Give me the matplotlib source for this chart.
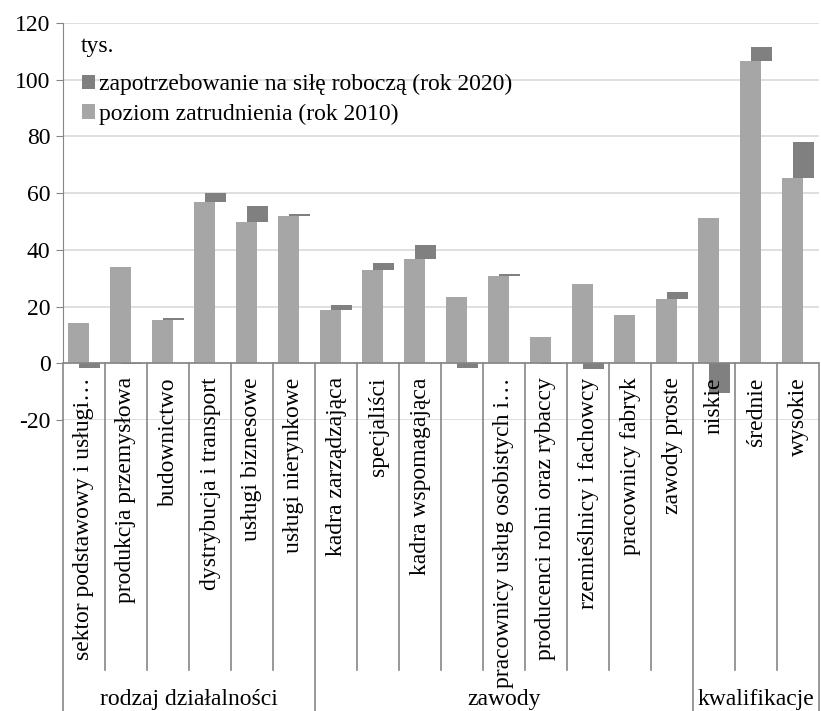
# zatrudnienie 2010 vs zapotrzebowanie 2020 - wykres slupkowy
import matplotlib
matplotlib.use("Agg")
import matplotlib.pyplot as plt
from matplotlib.lines import Line2D

plt.rcParams['font.family'] = ['Liberation Serif', 'DejaVu Serif']
plt.rcParams['axes.unicode_minus'] = False

# dane (tys.)
categories = ["sektor podstawowy i usługi…", "produkcja przemysłowa", "budownictwo",
              "dystrybucja i transport", "usługi biznesowe", "usługi nierynkowe",
              "kadra zarządzająca", "specjaliści", "kadra wspomagająca", "",
              "pracownicy usług osobistych i…", "producenci rolni oraz rybaccy",
              "rzemieślnicy i fachowcy", "pracownicy fabryk", "zawody proste",
              "niskie", "średnie", "wysokie"]
level_2010 = [14.2, 33.8, 15.4, 56.8, 49.9, 52.0,
              18.9, 32.8, 36.8, 23.4, 30.7, 9.1, 28.0, 17.2, 22.7,
              51.1, 106.6, 65.2]
change_2020 = [-1.5, -0.3, 0.4, 3.1, 5.4, 0.8,
               1.8, 2.5, 4.8, -1.6, 0.9, -0.3, -1.9, 0.0, 2.6,
               -10.5, 4.9, 12.8]
groups = ["rodzaj działalności", "zawody", "kwalifikacje"]
group_sizes = [6, 9, 3]

light = "#a6a6a6"
dark = "#808080"
axis_col = "#868686"
fs = 17

fig = plt.figure(figsize=(8.21, 7.11), dpi=100)
W, H = 821, 711
ax = fig.add_axes([63 / W, (H - 420) / H, (819 - 63) / W, (420 - 23) / H])

n = len(categories)
xs = list(range(n))
# dark bar: on top of the 2010 level when positive, below zero when negative
bottoms = [lv if ch >= 0 else 0 for lv, ch in zip(level_2010, change_2020)]
ax.bar([x - 0.128 for x in xs], level_2010, width=0.5, color=light, zorder=2,
       label="poziom zatrudnienia (rok 2010)")
ax.bar([x + 0.128 for x in xs], change_2020, bottom=bottoms, width=0.5, color=dark,
       zorder=3, label="zapotrzebowanie na siłę roboczą (rok 2020)")

ax.set_xlim(-0.5, n - 0.5)
ax.set_ylim(-20, 120)
ax.set_yticks(range(-20, 121, 20))
ax.tick_params(axis='y', labelsize=fs, length=5, color=axis_col, pad=4)
ax.set_xticks([])
ax.grid(axis='y', color="#d9d9d9", linewidth=1.2, zorder=0)
for s in ['top', 'right', 'bottom']:
    ax.spines[s].set_visible(False)
ax.spines['left'].set_color(axis_col)
ax.spines['left'].set_bounds(0, 120)

# x axis at zero
ax.axhline(0, color=axis_col, linewidth=1.2, zorder=4)

# category labels below zero line
for x, lab in zip(xs, categories):
    ax.annotate(lab, xy=(x, 0), xytext=(0, -14), textcoords='offset pixels',
                rotation=90, ha='center', va='top', fontsize=fs,
                annotation_clip=False)

# separators (figure pixel coords)
def px_to_fig(px, py):
    return px / W, (H - py) / H

x0_px, cat_w = 63, (819 - 63) / n
bounds = [0]
for g in group_sizes:
    bounds.append(bounds[-1] + g)
for i in range(n + 1):
    xp = x0_px + i * cat_w
    yb = 711 if i in bounds else 670
    (fx, fy1), (_, fy2) = px_to_fig(xp, 363), px_to_fig(xp, yb)
    fig.add_artist(Line2D([fx, fx], [fy1, fy2], color=axis_col, linewidth=1.2))

for gi, gname in enumerate(groups):
    cx = x0_px + (bounds[gi] + bounds[gi + 1]) / 2 * cat_w
    fx, fy = px_to_fig(cx, 700)
    fig.text(fx, fy, gname, ha='center', va='center', fontsize=fs)

# legend + unit
handles, labels = ax.get_legend_handles_labels()
leg = ax.legend(handles[::-1], labels[::-1], loc='upper left',
                bbox_to_anchor=(0.012, 0.895), frameon=False, fontsize=fs,
                handlelength=0.55, handleheight=0.55, handletextpad=0.2,
                labelspacing=0.35, borderaxespad=0)
ax.text(0.024, 0.94, "tys.", transform=ax.transAxes, fontsize=fs, va='center')

fig.savefig("out.png", dpi=100)
